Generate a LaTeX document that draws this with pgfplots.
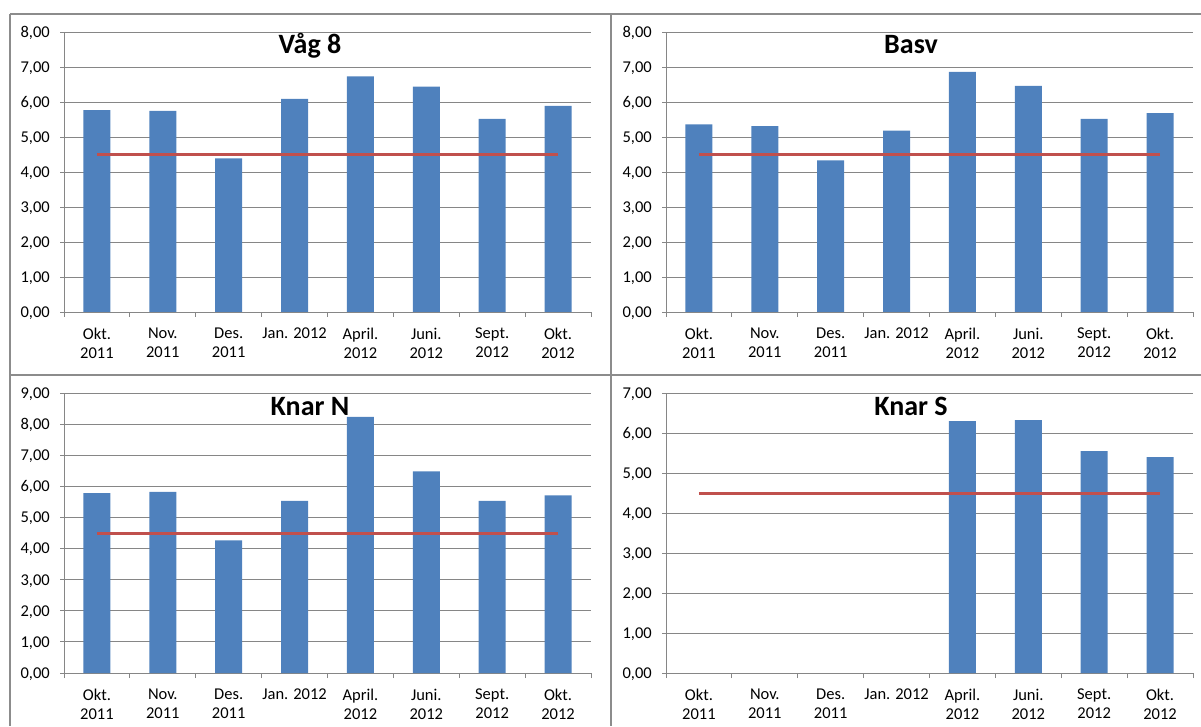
\documentclass[border=0pt]{standalone}
\usepackage{fontspec}
\setmainfont{Carlito}
\usepackage{pgfplots}
\pgfplotsset{compat=1.18}
\definecolor{barblue}{HTML}{4F81BD}
\definecolor{limred}{HTML}{C0504D}
\definecolor{gridgray}{HTML}{868686}
\definecolor{framegray}{HTML}{8C8C8C}
\pgfplotsset{
  panel/.style={
    scale only axis, width=527pt, height=280pt, anchor=south west,
    xmin=-0.5, xmax=7.5, ymin=0,
    xtick={0,...,7},
    xticklabels={{Okt.\\2011},{Nov.\\2011},{Des.\\2011},{Jan. 2012},{April.\\2012},{Juni.\\2012},{Sept.\\2012},{Okt.\\2012}},
    minor xtick={-0.5,0.5,...,7.5},
    major x tick style={draw=none},
    minor tick length=5pt,
    major tick length=4pt,
    tick align=outside,
    tick style={gridgray, line width=0.8pt},
    axis x line*=bottom, axis y line*=left,
    axis line style={-, draw=gridgray, line width=0.8pt},
    ymajorgrids, grid style={gridgray, line width=0.8pt},
    tick label style={font=\fontsize{16.5}{19}\selectfont, text=black},
    xticklabel style={align=center, anchor=north, inner sep=0pt, yshift=-12pt},
    yticklabel style={anchor=east, inner sep=0pt, text depth=0pt, xshift=-10pt,
      /pgf/number format/.cd, fixed, fixed zerofill, precision=2, use comma, assume math mode=true},
  },
  bars/.style={ybar, bar width=27pt, bar shift=0pt, fill=barblue, draw=none},
  limit/.style={limred, line width=3pt, mark=none},
}
\begin{document}
\begin{tikzpicture}
\path[use as bounding box] (0,0) rectangle (1201pt,726pt);
% top-left
\begin{axis}[panel, at={(64pt,414pt)}, ymax=8, ytick={0,...,8}]
\addplot[bars] coordinates {(0,5.77) (1,5.75) (2,4.39) (3,6.09) (4,6.73) (5,6.44) (6,5.52) (7,5.89)};
\addplot[limit] coordinates {(0,4.5) (7,4.5)};
\end{axis}
% top-right
\begin{axis}[panel, at={(666pt,414pt)}, ymax=8, ytick={0,...,8}]
\addplot[bars] coordinates {(0,5.36) (1,5.31) (2,4.33) (3,5.18) (4,6.86) (5,6.46) (6,5.52) (7,5.68)};
\addplot[limit] coordinates {(0,4.5) (7,4.5)};
\end{axis}
% bottom-left
\begin{axis}[panel, at={(64pt,53pt)}, ymax=9, ytick={0,...,9}]
\addplot[bars] coordinates {(0,5.78) (1,5.82) (2,4.26) (3,5.53) (4,8.23) (5,6.48) (6,5.53) (7,5.71)};
\addplot[limit] coordinates {(0,4.5) (7,4.5)};
\end{axis}
% bottom-right
\begin{axis}[panel, at={(666pt,53pt)}, ymax=7, ytick={0,...,7}]
\addplot[bars] coordinates {(4,6.30) (5,6.32) (6,5.55) (7,5.40)};
\addplot[limit] coordinates {(0,4.5) (7,4.5)};
\end{axis}
% titles
\begin{scope}[every node/.style={font=\fontsize{28}{34}\selectfont\bfseries, anchor=base}]
\node at (310pt,672.5pt) {Våg 8};
\node at (911pt,672.5pt) {Basv};
\node at (310pt,310.5pt) {Knar N};
\node at (911pt,310.5pt) {Knar S};
\end{scope}
% frames
\draw[framegray, line width=2pt] (10pt,712pt) -- (1201pt,712pt);
\draw[framegray, line width=2pt] (10pt,712pt) -- (10pt,0pt);
\draw[framegray, line width=2pt] (611pt,712pt) -- (611pt,0pt);
\draw[framegray, line width=2.5pt] (10pt,351pt) -- (1201pt,351pt);
\end{tikzpicture}
\end{document}
